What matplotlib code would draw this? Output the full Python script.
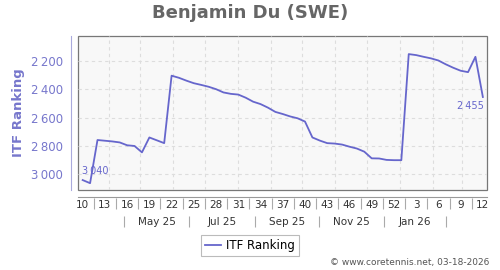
import datetime as dt
import matplotlib
matplotlib.use("Agg")
import matplotlib.pyplot as plt
import numpy as np

# ---- data ----
week_labels = [10, 13, 16, 19, 22, 25, 28, 31, 34, 37, 40, 43, 46, 49, 52, 3, 6, 9, 12]
rank = [3040, 3062, 2758, 2763, 2768, 2775, 2795, 2800, 2845, 2740, 2760, 2780,
        2305, 2320, 2340, 2358, 2370, 2383, 2400, 2423, 2433, 2438, 2460, 2488,
        2505, 2530, 2560, 2575, 2592, 2605, 2628, 2740, 2762, 2780,
        2783, 2790, 2805, 2818, 2840, 2887, 2888, 2898, 2900, 2900,
        2153, 2160, 2172, 2183, 2198, 2225, 2249, 2270, 2280, 2172, 2455]
month_labels = ["May 25", "Jul 25", "Sep 25", "Nov 25", "Jan 26"]
y_ticks = [2200, 2400, 2600, 2800, 3000]

LINE = "#6666cc"
YCOL = "#7777cc"

x = np.arange(len(rank))
origin = dt.datetime(2025, 3, 22, 12)


def pos(d):
    return (d - origin).total_seconds() / 86400 / 7


sep_dates = [dt.datetime(2025, 5, 1), dt.datetime(2025, 7, 1), dt.datetime(2025, 9, 1),
             dt.datetime(2025, 11, 1), dt.datetime(2026, 1, 1), dt.datetime(2026, 3, 1)]
grid_dates = []
y_, m_ = 2025, 4
while (y_, m_) <= (2026, 3):
    grid_dates.append(dt.datetime(y_, m_, 16))
    m_ += 1
    if m_ > 12:
        m_ = 1
        y_ += 1

fig = plt.figure(figsize=(5, 2.7), dpi=100)
L, R, T, B = 78, 487, 35.5, 190
ax = fig.add_axes([L / 500, 1 - B / 270, (R - L) / 500, (B - T) / 270])
ax.set_facecolor("#f8f8f8")
ax.patch.set_edgecolor("#777777")
ax.patch.set_linewidth(0.9)

ax.plot(x, rank, color=LINE, lw=1.3, zorder=3)
ax.set_xlim(-0.63, 54.56)
ax.set_ylim(3110, 2022)

# grid
ax.set_yticks(y_ticks)
ax.set_yticklabels([f"{v:,}".replace(",", "\u2009") for v in y_ticks])
ax.yaxis.grid(True, color="#dddddd", ls=(0, (3, 3)), lw=0.8)
for g in grid_dates:
    ax.axvline(pos(g), color="#dddddd", ls=(0, (3, 3)), lw=0.8, zorder=1)

for s in ["top", "right"]:
    ax.spines[s].set_visible(False)
ax.spines["left"].set_position(("outward", 5))
ax.spines["left"].set_color("#aaaadd")
ax.spines["bottom"].set_position(("outward", 5))
ax.spines["bottom"].set_color("#999999")
ax.tick_params(axis="y", length=0, pad=6, labelsize=8.5, labelcolor=YCOL)
ax.set_xticks([])
ax.set_ylabel("ITF Ranking", fontsize=9.5, fontweight="bold", color=YCOL, labelpad=4)

# week axis
wk = ax.secondary_xaxis(-8 / (B - T))
wk.spines["bottom"].set_visible(False)
wk.set_xticks(np.arange(1.5, 53, 3))
wk.set_xticklabels([])
wk.set_xticks(np.arange(0, 55, 3), minor=True)
wk.set_xticklabels([str(w) for w in week_labels], minor=True)
wk.tick_params(which="major", length=8, color="#aaaaaa", width=0.8)
wk.tick_params(which="minor", length=0, pad=1.5, labelsize=7.5, labelcolor="#333333")

# month axis
mo = ax.secondary_xaxis(-26 / (B - T))
mo.spines["bottom"].set_visible(False)
sp = [pos(d) for d in sep_dates]
mo.set_xticks(sp)
mo.set_xticklabels([])
mo.set_xticks([(a + b) / 2 for a, b in zip(sp[:-1], sp[1:])], minor=True)
mo.set_xticklabels(month_labels, minor=True)
mo.tick_params(which="major", length=8, color="#aaaaaa", width=0.8)
mo.tick_params(which="minor", length=0, pad=0.5, labelsize=7.5, labelcolor="#333333")

# annotations
ax.annotate(f"{rank[0]:,}".replace(",", "\u2009"), (x[0], rank[0]), xytext=(-1, 4),
            textcoords="offset pixels", ha="left", va="bottom", fontsize=7, color=LINE)
ax.annotate(f"{rank[-1]:,}".replace(",", "\u2009"), (x[-1], rank[-1]), xytext=(1, -4),
            textcoords="offset pixels", ha="right", va="top", fontsize=7, color=LINE)

fig.text(0.5, 1 - 13 / 270, "Benjamin Du (SWE)", ha="center", va="center",
         fontsize=13, fontweight="bold", color="#666666")

leg = fig.legend([ax.lines[0]], ["ITF Ranking"], loc="center", bbox_to_anchor=(250 / 500, 1 - 245.5 / 270),
                 fontsize=8.5, frameon=True, fancybox=False, edgecolor="#aaaaaa",
                 handlelength=1.4, handletextpad=0.4, borderpad=0.35, borderaxespad=0)
leg.get_frame().set_linewidth(0.8)

fig.text(489 / 500, 1 - 263 / 270, "\u00a9 www.coretennis.net, 03-18-2026", ha="right", va="center",
         fontsize=6.5, color="#555555")

fig.savefig("out.png", dpi=100)
